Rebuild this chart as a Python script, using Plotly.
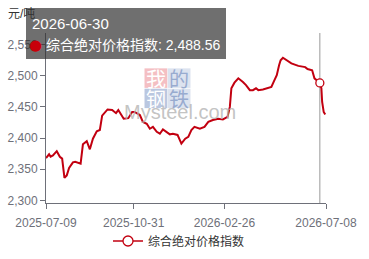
import plotly.graph_objects as go

dates = ["2025-07-09","2025-07-13","2025-07-15","2025-07-18","2025-07-23","2025-07-27","2025-07-30","2025-08-02","2025-08-05","2025-08-08",
         "2025-08-13","2025-08-16","2025-08-23","2025-08-26","2025-08-31","2025-09-04","2025-09-08","2025-09-13","2025-09-17","2025-09-20",
         "2025-09-27","2025-10-03","2025-10-08","2025-10-11","2025-10-18","2025-10-24","2025-10-29","2025-11-01","2025-11-04","2025-11-08",
         "2025-11-12","2025-11-17","2025-11-21","2025-11-25","2025-11-30","2025-12-04","2025-12-08","2025-12-13","2025-12-17","2025-12-21",
         "2025-12-27","2026-01-01","2026-01-06","2026-01-10","2026-01-14","2026-01-18","2026-01-25","2026-01-31","2026-02-05","2026-02-11",
         "2026-02-18","2026-02-24","2026-03-02","2026-03-05","2026-03-07","2026-03-11","2026-03-16","2026-03-22","2026-03-26","2026-03-31",
         "2026-04-04","2026-04-08","2026-04-11","2026-04-17","2026-04-24","2026-04-28","2026-05-02","2026-05-05","2026-05-08","2026-05-10",
         "2026-05-13","2026-05-18","2026-05-24","2026-06-02","2026-06-11","2026-06-14","2026-06-20","2026-06-23","2026-06-26","2026-06-30",
         "2026-07-02","2026-07-03","2026-07-05","2026-07-07"]
values = [2368,2374,2370,2372,2379,2370,2367,2336,2340,2352,
          2361,2362,2359,2390,2395,2382,2399,2411,2413,2436,
          2446,2445,2440,2445,2431,2432,2442,2442,2440,2437,
          2426,2423,2415,2418,2410,2407,2414,2410,2406,2407,
          2405,2391,2399,2402,2413,2418,2415,2418,2426,2429,
          2431,2430,2434,2450,2480,2489,2496,2490,2485,2477,
          2477,2480,2477,2478,2480,2482,2493,2501,2517,2525,
          2529,2525,2520,2516,2514,2511,2509,2496,2493,2488.56,
          2480,2458,2442,2438]

series_name = "综合绝对价格指数"
y_title = "元/吨"
x_tickvals = ["2025-07-09", "2025-10-31", "2026-02-26", "2026-07-08"]
y_tickvals = [2300, 2350, 2400, 2450, 2500, 2550]
hover_date = "2026-06-30"

RED = "#C20010"
AXIS = "#6E7079"
FONT = "Liberation Sans, Arial, Noto Sans CJK SC, sans-serif"

hi = dates.index(hover_date)
hv = values[hi]

fig = go.Figure()
fig.add_trace(go.Scatter(x=dates, y=values, mode="lines", name=series_name,
                         line=dict(color=RED, width=2), showlegend=False, hoverinfo="skip"))
fig.add_trace(go.Scatter(x=[dates[hi]], y=[hv], mode="markers", showlegend=False,
                         marker=dict(size=8, color="white", line=dict(color=RED, width=1.3)),
                         hoverinfo="skip"))
fig.add_trace(go.Scatter(x=[None], y=[None], mode="lines+markers", name=series_name,
                         line=dict(color=RED, width=1.5),
                         marker=dict(size=10, color="white", line=dict(color=RED, width=1.3))))

W, H = 369, 259
L, R, T, B = 46, 43, 33, 56.3
pw, ph = W - L - R, H - T - B

def px(x):
    return (x - L) / pw

def py(y):
    return (H - B - y) / ph

# axis pointer
fig.add_shape(type="line", xref="x", yref="paper", x0=dates[hi], x1=dates[hi], y0=0, y1=1,
              line=dict(color="#999999", width=1), layer="below")

# watermark tiles
tiles = [("我", 144.5, 167.3, 68.3, 87.8, "#F4BFC3", "white"),
         ("的", 167.7, 190.5, 68.3, 87.8, "#DCE3EF", "#98ABCF"),
         ("钢", 144.5, 167.3, 88.6, 108.0, "#BAC7E0", "white"),
         ("铁", 167.7, 190.5, 88.6, 108.0, "#DCE3EF", "#98ABCF")]
annotations = []
for ch, x0, x1, y0, y1, bg, fc in tiles:
    fig.add_shape(type="rect", xref="paper", yref="paper", x0=px(x0), x1=px(x1), y0=py(y1), y1=py(y0),
                  fillcolor=bg, line=dict(width=0), layer="below")
    annotations.append(dict(text=ch, xref="paper", yref="paper", x=px((x0 + x1) / 2), y=py((y0 + y1) / 2),
                            showarrow=False, xanchor="center", yanchor="middle",
                            font=dict(size=20, color=fc, family="Noto Sans CJK SC")))
annotations.append(dict(text="Mysteel.com", xref="paper", yref="paper", x=px(180), y=py(112),
                        showarrow=False, xanchor="center", yanchor="middle",
                        font=dict(size=20, color="rgba(180,180,180,0.8)", family="Liberation Sans")))

# y axis title
annotations.append(dict(text=y_title, xref="paper", yref="paper", x=px(6), y=py(14),
                        showarrow=False, xanchor="left", yanchor="middle",
                        font=dict(size=12, color="#333333", family=FONT)))

# tooltip box
annotations.append(dict(text=" ", xref="paper", yref="paper", x=px(126), y=py(33.5),
                        showarrow=False, xanchor="center", yanchor="middle",
                        width=200, height=51, borderpad=0, borderwidth=0,
                        bgcolor="rgba(50,50,50,0.7)"))
annotations.append(dict(text=hover_date, xref="paper", yref="paper", x=px(30), y=py(24),
                        showarrow=False, xanchor="left", yanchor="middle",
                        font=dict(size=15, color="white", family=FONT)))
annotations.append(dict(text="●", xref="paper", yref="paper", x=px(35.7), y=py(45),
                        showarrow=False, xanchor="center", yanchor="middle",
                        font=dict(size=15, color="#C8000A", family="DejaVu Sans")))
annotations.append(dict(text=f"{series_name}: {hv:,.2f}", xref="paper", yref="paper", x=px(44), y=py(45),
                        showarrow=False, xanchor="left", yanchor="middle",
                        font=dict(size=14, color="white", family=FONT)))

fig.update_layout(
    width=W, height=H,
    margin=dict(l=L, r=R, t=T, b=B, pad=0, autoexpand=False),
    paper_bgcolor="white", plot_bgcolor="white",
    font=dict(family=FONT, size=12, color=AXIS),
    annotations=annotations,
    legend=dict(orientation="h", xref="container", yref="container", x=179 / W, y=1 - 241 / H,
                xanchor="center", yanchor="middle",
                font=dict(size=12, color="#333333"), itemwidth=30, bgcolor="rgba(0,0,0,0)"),
    xaxis=dict(type="date", range=["2025-07-09", "2026-07-08"], tickvals=x_tickvals, ticktext=x_tickvals,
               showgrid=False, zeroline=False, showline=True, linecolor=AXIS, linewidth=1,
               ticks="outside", ticklen=5, tickcolor=AXIS, ticklabelstandoff=4,
               tickfont=dict(size=12, color=AXIS)),
    yaxis=dict(range=[2295.7, 2568.8], tickvals=y_tickvals, tickformat=",d",
               showgrid=False, zeroline=False, showline=True, linecolor=AXIS, linewidth=1,
               ticks="outside", ticklen=5, tickcolor=AXIS,
               tickfont=dict(size=12, color=AXIS)),
)

fig.write_html("out.html")
